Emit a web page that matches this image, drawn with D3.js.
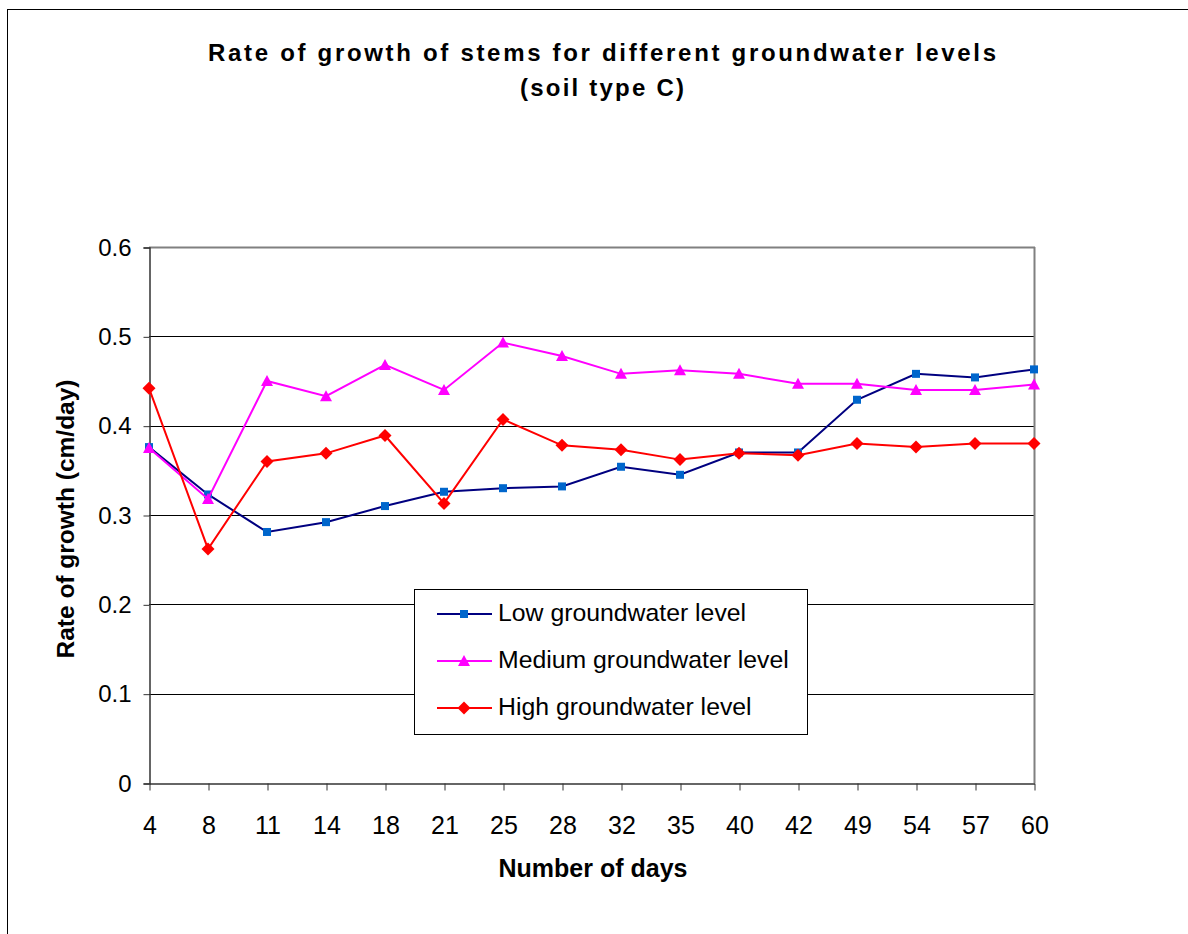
<!DOCTYPE html>
<html><head><meta charset="utf-8">
<script src="https://cdn.jsdelivr.net/npm/d3@7"></script>
<style>body{margin:0;background:#fff}svg{display:block}text{font-family:"Liberation Sans",Arial,sans-serif}</style>
</head><body>
<svg id="c" width="1188" height="934"></svg>
<script>
const days = ["4","8","11","14","18","21","25","28","32","35","40","42","49","54","57","60"];
const lowLevel    = [0.376,0.323,0.281,0.292,0.310,0.326,0.330,0.332,0.354,0.345,0.370,0.370,0.429,0.458,0.454,0.463];
const mediumLevel = [0.375,0.318,0.450,0.433,0.468,0.440,0.493,0.478,0.458,0.462,0.458,0.447,0.447,0.440,0.440,0.446];
const highLevel   = [0.442,0.262,0.360,0.369,0.389,0.313,0.407,0.378,0.373,0.362,0.369,0.367,0.380,0.376,0.380,0.380];
const yTicks = [0,0.1,0.2,0.3,0.4,0.5,0.6];
const seriesNames = ["Low groundwater level","Medium groundwater level","High groundwater level"];

const series = [
  {name:seriesNames[0], values:lowLevel, line:"#000080", fill:"#0066CC", shape:"square"},
  {name:seriesNames[1], values:mediumLevel, line:"#FF00FF", fill:"#FF00FF", shape:"triangle"},
  {name:seriesNames[2], values:highLevel, line:"#FF0000", fill:"#FF0000", shape:"diamond"}
];

const svg = d3.select("#c");
const L=149, R=1034, T=247, B=783;
const x = d3.scalePoint().domain(days).range([L,R]);
const y = d3.scaleLinear().domain([0,0.6]).range([B,T]);

// outer frame
svg.append("rect").attr("x",7.5).attr("y",9.5).attr("width",1300).attr("height",1300)
  .attr("fill","#fff").attr("stroke","#000").attr("stroke-width",1);

// title
svg.append("text").attr("x",602).attr("y",61).attr("text-anchor","middle").attr("font-weight","bold")
  .attr("font-size",24).attr("textLength",788).attr("lengthAdjust","spacing")
  .text("Rate of growth of stems for different groundwater levels");
svg.append("text").attr("x",602).attr("y",96).attr("text-anchor","middle").attr("font-weight","bold")
  .attr("font-size",24).attr("textLength",164).attr("lengthAdjust","spacing")
  .text("(soil type C)");

// gridlines
svg.append("g").selectAll("line").data(yTicks.filter(d=>d>0 && d<0.6)).join("line")
  .attr("x1",L).attr("x2",R).attr("y1",d=>Math.round(y(d))+0.5).attr("y2",d=>Math.round(y(d))+0.5)
  .attr("stroke","#000").attr("stroke-width",1);
// plot border top/right gray
svg.append("line").attr("x1",L).attr("x2",R+1).attr("y1",T+0.5).attr("y2",T+0.5).attr("stroke","#808080").attr("stroke-width",2);
svg.append("line").attr("x1",R+0.5).attr("x2",R+0.5).attr("y1",T).attr("y2",B).attr("stroke","#808080").attr("stroke-width",2);

// y axis
const yAxis = d3.axisLeft(y).tickValues(yTicks).tickFormat(d=>d===0?"0":d3.format(".1f")(d)).tickSize(6).tickPadding(12);
const gy = svg.append("g").attr("transform",`translate(${L+0.5},0.5)`).call(yAxis);
gy.select(".domain").attr("stroke","#333").attr("stroke-width",1.5);
gy.selectAll(".tick line").attr("stroke","#333");
gy.selectAll("text").attr("font-size",24).attr("fill","#000").attr("font-family","Liberation Sans, Arial, sans-serif");

// x axis
const xAxis = d3.axisBottom(x).tickSize(7).tickSizeOuter(0);
const gx = svg.append("g").attr("transform",`translate(0.5,${B+0.5})`).call(xAxis);
gx.select(".domain").attr("stroke","#333").attr("stroke-width",1.5);
gx.selectAll(".tick line").attr("stroke","#333");
gx.selectAll("text").attr("font-size",25).attr("fill","#000").attr("y",50).attr("dy",0)
  .attr("font-family","Liberation Sans, Arial, sans-serif");

// axis titles
svg.append("text").attr("x",593).attr("y",877).attr("text-anchor","middle").attr("font-weight","bold")
  .attr("font-size",25).text("Number of days");
svg.append("text").attr("transform","translate(74,519) rotate(-90)").attr("text-anchor","middle")
  .attr("font-weight","bold").attr("font-size",24.5).text("Rate of growth (cm/day)");

function marker(g, s, cx, cy){
  if(s.shape==="square"){
    g.append("rect").attr("x",cx-4).attr("y",cy-4).attr("width",8).attr("height",8).attr("fill",s.fill);
  } else if(s.shape==="triangle"){
    g.append("path").attr("d",`M${cx},${cy-6}L${cx+6},${cy+5}L${cx-6},${cy+5}Z`).attr("fill",s.fill);
  } else {
    g.append("path").attr("d",`M${cx},${cy-6.5}L${cx+6.5},${cy}L${cx},${cy+6.5}L${cx-6.5},${cy}Z`).attr("fill",s.fill);
  }
}

const line = d3.line().x((d,i)=>x(days[i])).y(d=>y(d));
series.forEach(s=>{
  const g = svg.append("g");
  g.append("path").datum(s.values).attr("d",line).attr("fill","none").attr("stroke",s.line).attr("stroke-width",2);
  s.values.forEach((v,i)=>marker(g,s,x(days[i]),y(v)));
});

// legend
const lg = svg.append("g");
lg.append("rect").attr("x",414.5).attr("y",589.5).attr("width",393).attr("height",145)
  .attr("fill","#fff").attr("stroke","#000").attr("stroke-width",1);
series.forEach((s,i)=>{
  const cy = 614 + i*47;
  lg.append("line").attr("x1",437).attr("x2",492).attr("y1",cy).attr("y2",cy).attr("stroke",s.line).attr("stroke-width",2);
  marker(lg,s,464,cy);
  lg.append("text").attr("x",498).attr("y",cy+7).attr("font-size",24.8).text(s.name);
});
</script>
</body></html>
